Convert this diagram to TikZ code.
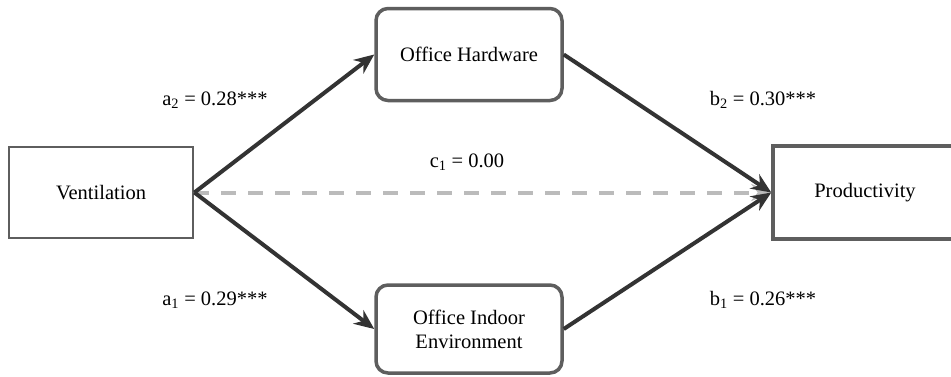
\documentclass[tikz,border=0pt]{standalone}
\usepackage{fontspec}
\setmainfont{Liberation Serif}
\usetikzlibrary{arrows.meta}
\definecolor{boxgray}{HTML}{5E5E5E}
\definecolor{arrowdark}{HTML}{333333}
\definecolor{dashgray}{HTML}{BBBBBB}
\tikzset{
  sqbox/.style={draw=boxgray, line width=2.8pt, fill=white, minimum width=184pt, minimum height=91pt, inner sep=0pt, align=center, font=\fontsize{20.5}{24}\selectfont},
  rbox/.style={draw=boxgray, line width=3.5pt, fill=white, rounded corners=12pt, minimum width=186pt, minimum height=92pt, inner sep=0pt, align=center, font=\fontsize{20.5}{24}\selectfont},
  conn/.style={draw=arrowdark, line width=4pt, -{Stealth[length=20pt,width=17pt]}},
  dconn/.style={draw=dashgray, line width=4pt, dash pattern=on 15pt off 12pt, -{Stealth[length=20pt,width=17pt]}},
  lbl/.style={font=\fontsize{20.5}{24}\selectfont, inner sep=0pt}
}
\begin{document}
\begin{tikzpicture}[x=1pt,y=-1pt]
\useasboundingbox (0,0) rectangle (951,376);
\fill[white] (0,0) rectangle (951,376);
\node[sqbox] (vent) at (101,192.5) {Ventilation};
\node[sqbox, line width=3.5pt, minimum height=93pt] (prod) at (865,192.5) {Productivity};
\node[rbox] (hw) at (469,54.5) {Office Hardware};
\node[rbox, minimum height=88pt] (env) at (469,329) {Office Indoor\\Environment};
\draw[dconn] (vent.east) -- (prod.west);
\draw[conn] (vent.east) -- (hw.west);
\draw[conn] (vent.east) -- (env.west);
\draw[conn] (hw.east) -- (prod.west);
\draw[conn] (env.east) -- (prod.west);
\node[lbl] (la2) at (215,100) {a\textsubscript{2} = 0.28***};
\node[lbl] (la1) at (215,300) {a\textsubscript{1} = 0.29***};
\node[lbl] (lb2) at (763,100) {b\textsubscript{2} = 0.30***};
\node[lbl] (lb1) at (763,300) {b\textsubscript{1} = 0.26***};
\node[lbl] (lc1) at (467,162) {c\textsubscript{1} = 0.00};
\end{tikzpicture}
\end{document}
